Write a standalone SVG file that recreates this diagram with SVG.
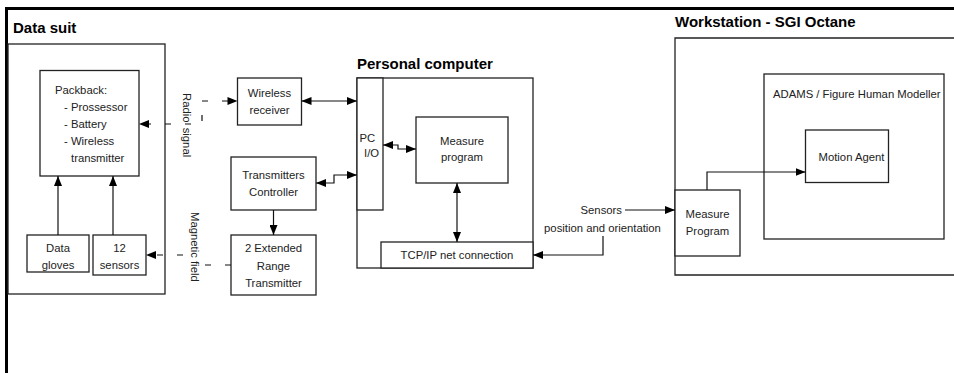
<svg xmlns="http://www.w3.org/2000/svg" width="954" height="373" viewBox="0 0 954 373">
<style>
  .box{fill:#fff;stroke:#222;stroke-width:1.3}
  .t{font-family:"Liberation Sans",Arial,sans-serif;font-size:11.3px;fill:#222}
  .c{text-anchor:middle}
  .r{word-spacing:2px}
  .h{font-family:"Liberation Sans",Arial,sans-serif;font-size:15px;font-weight:bold;fill:#000}
  .ln{fill:none;stroke:#111;stroke-width:1.2}
  .dash{fill:none;stroke:#111;stroke-width:1.2;stroke-dasharray:6 14}
</style>
<defs>
  <marker id="ah" viewBox="0 0 10 8" refX="10" refY="4" markerWidth="10" markerHeight="8" markerUnits="userSpaceOnUse" orient="auto-start-reverse">
    <path d="M0,0 L10,4 L0,8 z" fill="#000"/>
  </marker>
</defs>
<rect width="954" height="373" fill="#fff"/>
<g id="frame">
  <line x1="5" y1="8.5" x2="954" y2="8.5" stroke="#000" stroke-width="3"/>
  <line x1="6.5" y1="7" x2="6.5" y2="373" stroke="#000" stroke-width="3"/>
</g>
<g id="data-suit">
  <rect class="box" x="8" y="44" width="157" height="250"/>
  <text class="h" x="13" y="33">Data suit</text>
</g>
<g id="packback">
  <rect class="box" x="40" y="70.5" width="99" height="105.5"/>
  <text class="t" x="55" y="94">Packback:</text>
  <text class="t" x="64" y="111">- Prossessor</text>
  <text class="t" x="64" y="128">- Battery</text>
  <text class="t" x="64" y="145">- Wireless</text>
  <text class="t" x="71" y="162">transmitter</text>
</g>
<g id="data-gloves">
  <rect class="box" x="27" y="235" width="62" height="37"/>
  <text class="t c" x="58" y="252">Data</text>
  <text class="t c" x="58" y="268.5">gloves</text>
</g>
<g id="sensors12">
  <rect class="box" x="93" y="235" width="53" height="40"/>
  <text class="t c" x="119.5" y="252">12</text>
  <text class="t c" x="119.5" y="268.5">sensors</text>
</g>
<g id="wireless-receiver">
  <rect class="box" x="237.5" y="78" width="64" height="47"/>
  <text class="t c" x="269.5" y="97">Wireless</text>
  <text class="t c" x="269.5" y="114">receiver</text>
</g>
<g id="transmitters-controller">
  <rect class="box" x="231" y="157" width="85" height="53"/>
  <text class="t c" x="273.5" y="179">Transmitters</text>
  <text class="t c" x="273.5" y="196">Controller</text>
</g>
<g id="extended-range-transmitter">
  <rect class="box" x="231" y="235" width="85" height="60"/>
  <text class="t c" x="273.5" y="252">2 Extended</text>
  <text class="t c" x="273.5" y="270">Range</text>
  <text class="t c" x="273.5" y="287">Transmitter</text>
</g>
<g id="personal-computer">
  <rect class="box" x="357" y="78" width="176" height="190"/>
  <text class="h" x="357" y="69">Personal computer</text>
</g>
<g id="pc-io">
  <rect class="box" x="357" y="78" width="26" height="132"/>
  <text class="t" x="359.5" y="142">PC</text>
  <text class="t" x="364" y="157">I/O</text>
</g>
<g id="measure-program-pc">
  <rect class="box" x="416" y="117" width="92" height="66"/>
  <text class="t c" x="462" y="145">Measure</text>
  <text class="t c" x="462" y="161">program</text>
</g>
<g id="tcpip">
  <rect class="box" x="381" y="242" width="152" height="26"/>
  <text class="t c" x="457" y="259">TCP/IP net connection</text>
</g>
<g id="workstation">
  <path class="box" d="M954,38 H675 V275 H954"/>
  <text class="h" x="675" y="27">Workstation - SGI Octane</text>
</g>
<g id="adams">
  <rect class="box" x="764" y="74" width="180" height="165"/>
  <text class="t" x="773" y="97.5">ADAMS / Figure Human Modeller</text>
</g>
<g id="motion-agent">
  <rect class="box" x="805.5" y="130" width="83" height="52.5"/>
  <text class="t c" x="851.5" y="161">Motion Agent</text>
</g>
<g id="measure-program-ws">
  <rect class="box" x="675" y="190" width="65" height="66"/>
  <text class="t c" x="707.5" y="218">Measure</text>
  <text class="t c" x="707.5" y="235">Program</text>
</g>
<g id="labels">
  <text class="t r" transform="translate(183,93) rotate(90)">Radio signal</text>
  <text class="t" transform="translate(190.5,212) rotate(90)">Magnetic field</text>
  <text class="t" x="622" y="214" text-anchor="end">Sensors</text>
  <text class="t c" x="602.5" y="232">position and orientation</text>
</g>
<g id="connectors">
  <path class="dash" d="M228,101 H202 V124 H145"/>
  <path d="M237.5,101 l-10,-4 v8 z M139,124 l10,-4 v8 z" fill="#000"/>
  <path class="dash" d="M231,265 H203"/>
  <path class="dash" d="M187,255 H152" style="stroke-dasharray:6 14;stroke-dashoffset:-4"/>
  <path d="M146,255 l10,-4 v8 z" fill="#000"/>
  <path class="ln" d="M58,235 V176" marker-end="url(#ah)"/>
  <path class="ln" d="M113,235 V176" marker-end="url(#ah)"/>
  <path class="ln" d="M301.5,101 H357" marker-start="url(#ah)" marker-end="url(#ah)"/>
  <path class="ln" d="M316,183 H334 V175 H357" marker-start="url(#ah)" marker-end="url(#ah)"/>
  <path class="ln" d="M383,145 H398 V149 H416" marker-start="url(#ah)" marker-end="url(#ah)"/>
  <path class="ln" d="M273.5,210 V235" marker-end="url(#ah)"/>
  <path class="ln" d="M457,183 V242" marker-start="url(#ah)" marker-end="url(#ah)"/>
  <path class="ln" d="M625,210 H675" marker-end="url(#ah)"/>
  <path class="ln" d="M603,236 V255 H533" marker-end="url(#ah)"/>
  <path class="ln" d="M707,190 V172 H805.5" marker-end="url(#ah)"/>
</g>
</svg>
